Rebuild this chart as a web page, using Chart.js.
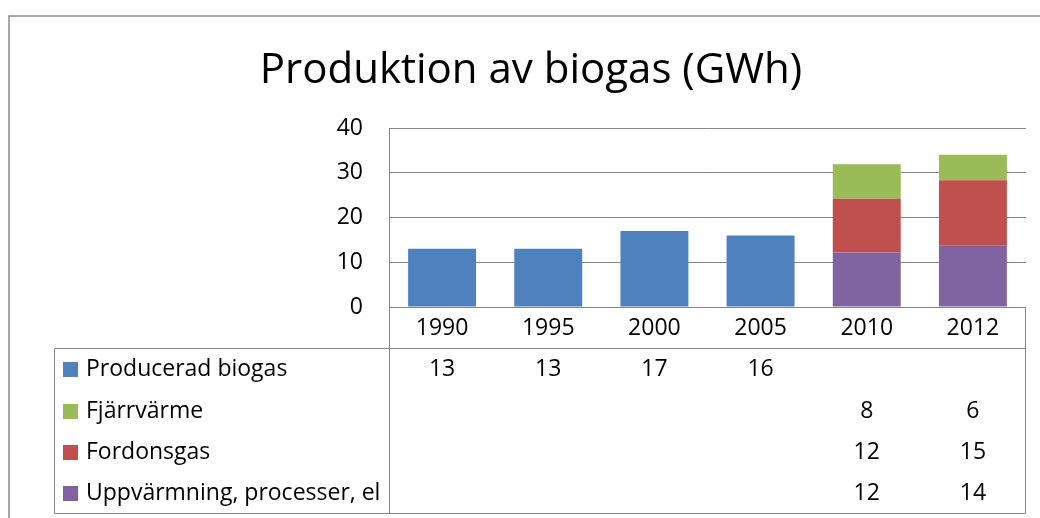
<!DOCTYPE html>
<html>
<head>
<meta charset="utf-8">
<script src="https://cdn.jsdelivr.net/npm/chart.js@4/dist/chart.umd.min.js"></script>
<style>
  html, body { margin: 0; padding: 0; background: #fff; }
  #wrap { width: 1040px; height: 518px; position: relative; }
</style>
</head>
<body>
<div id="wrap"><canvas id="c" width="1040" height="518"></canvas></div>
<script>
// ---- data ----
const chartTitle = 'Produktion av biogas (GWh)';
const categories = ['1990', '1995', '2000', '2005', '2010', '2012'];
const producerad = [13, 13, 17, 16, null, null];
const uppvarmning = [null, null, null, null, 12.2, 13.7];
const fordonsgas = [null, null, null, null, 12.0, 14.6];
const fjarrvarme = [null, null, null, null, 7.7, 5.7];
const yTicks = [0, 10, 20, 30, 40];
const seriesNames = {
  producerad: 'Producerad biogas',
  fjarrvarme: 'Fjärrvärme',
  fordonsgas: 'Fordonsgas',
  uppvarmning: 'Uppvärmning, processer, el'
};

const FONT = '"Open Sans"';
const TEXT_SIZE = 23;
const gridColor = '#868686';

const tableRows = [
  { name: seriesNames.producerad, data: producerad, color: '#4F81BD' },
  { name: seriesNames.fjarrvarme, data: fjarrvarme, color: '#9BBB59' },
  { name: seriesNames.fordonsgas, data: fordonsgas, color: '#C0504D' },
  { name: seriesNames.uppvarmning, data: uppvarmning, color: '#8064A2' }
];

const tablePlugin = {
  id: 'tablePlugin',
  afterDraw(chart) {
    const ctx = chart.ctx;
    const ca = chart.chartArea;
    const xs = chart.scales.x;
    const tableLeft = 54, tableTop = 348, tableBottom = 513;
    ctx.save();
    // outer chart border
    ctx.strokeStyle = '#8a8a8a';
    ctx.lineWidth = 1.5;
    ctx.beginPath();
    ctx.moveTo(9, 530); ctx.lineTo(9, 16); ctx.lineTo(1050, 16);
    ctx.stroke();

    // title
    ctx.fillStyle = '#000';
    ctx.font = '42px ' + FONT;
    ctx.textAlign = 'center';
    ctx.textBaseline = 'alphabetic';
    ctx.fillText(chartTitle, 531, 83);

    // table lines
    ctx.strokeStyle = gridColor;
    ctx.lineWidth = 1;
    ctx.beginPath();
    const L = Math.round(ca.left) + 0.5, R = Math.round(ca.right) - 0.5;
    ctx.moveTo(L, ca.top); ctx.lineTo(L, tableBottom + 0.5);
    ctx.moveTo(R, ca.bottom); ctx.lineTo(R, tableBottom + 0.5);
    ctx.moveTo(tableLeft + 0.5, tableTop + 0.5); ctx.lineTo(R, tableTop + 0.5);
    ctx.moveTo(tableLeft + 0.5, tableTop + 0.5); ctx.lineTo(tableLeft + 0.5, tableBottom + 0.5);
    ctx.lineTo(R, tableBottom + 0.5);
    ctx.stroke();

    // rows
    const rowY = [369, 411, 452, 493];
    ctx.font = TEXT_SIZE + 'px ' + FONT;
    ctx.textBaseline = 'middle';
    tableRows.forEach((row, r) => {
      const y = rowY[r];
      ctx.fillStyle = row.color;
      ctx.fillRect(63, y - 7, 15, 15);
      ctx.fillStyle = '#000';
      ctx.textAlign = 'left';
      ctx.fillText(row.name, 86, y);
      ctx.textAlign = 'center';
      row.data.forEach((v, i) => {
        if (v === null || v === undefined) return;
        ctx.fillText(String(Math.round(v)), xs.getPixelForValue(i), y);
      });
    });
    ctx.restore();
  }
};

new Chart(document.getElementById('c'), {
  type: 'bar',
  data: {
    labels: categories,
    datasets: [
      { label: seriesNames.producerad, data: producerad, backgroundColor: '#4F81BD' },
      { label: seriesNames.uppvarmning, data: uppvarmning, backgroundColor: '#8064A2' },
      { label: seriesNames.fordonsgas, data: fordonsgas, backgroundColor: '#C0504D' },
      { label: seriesNames.fjarrvarme, data: fjarrvarme, backgroundColor: '#9BBB59' }
    ]
  },
  options: {
    responsive: false,
    animation: false,
    devicePixelRatio: 1,
    layout: { padding: { top: 128, right: 14, bottom: 0, left: 0 } },
    datasets: { bar: { barPercentage: 0.64, categoryPercentage: 1.0 } },
    plugins: {
      legend: { display: false },
      title: { display: false },
      tooltip: { enabled: false }
    },
    scales: {
      x: {
        stacked: true,
        grid: { display: false, drawTicks: false },
        border: { display: false },
        ticks: { color: '#000', font: { family: FONT, size: TEXT_SIZE }, padding: 8, maxRotation: 0 },
        afterFit(scale) { scale.height = 211; }
      },
      y: {
        stacked: true,
        min: 0, max: 40,
        afterBuildTicks(scale) { scale.ticks = yTicks.map(v => ({ value: v })); },
        grid: { color: gridColor, lineWidth: 1, drawTicks: false },
        border: { display: false },
        ticks: { color: '#000', font: { family: FONT, size: TEXT_SIZE }, padding: 26 },
        afterFit(scale) { scale.width = 389; }
      }
    }
  },
  plugins: [tablePlugin]
});
</script>
</body>
</html>
